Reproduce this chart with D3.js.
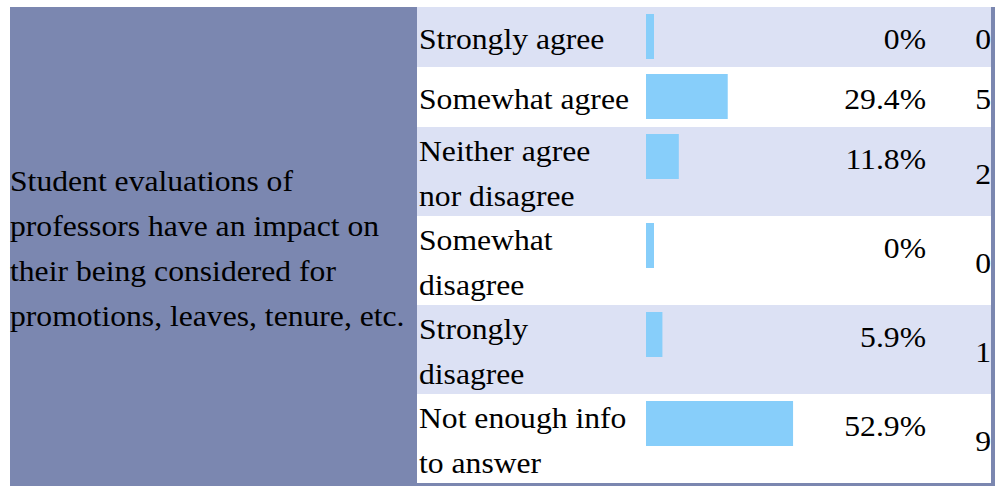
<!DOCTYPE html>
<html><head><meta charset="utf-8">
<script src="https://cdn.jsdelivr.net/npm/d3@7"></script>
<style>html,body{margin:0;padding:0;background:#fff;}svg{display:block;}</style>
</head><body>
<script>
const question = "Student evaluations of professors have an impact on their being considered for promotions, leaves, tenure, etc.";
const categories = ["Strongly agree", "Somewhat agree", "Neither agree nor disagree", "Somewhat disagree", "Strongly disagree", "Not enough info to answer"];
const percents = [0, 29.4, 11.8, 0, 5.9, 52.9];
const counts = [0, 5, 2, 0, 1, 9];

const W = 997, H = 486;
const SX = 1.055, FS = 30, LH = 44.5;
const FONT = '"Liberation Serif"';
const svg = d3.select("body").append("svg").attr("width", W).attr("height", H);

const frame = {x: 10, y: 7, w: 985, h: 479};
const rowsX0 = 417, rowsX1 = 991;
const rowBounds = [7, 67, 127, 216, 305, 394, 483];
const barX0 = 646;
const xScale = d3.scaleLinear().domain([0, 100]).range([0, 278]);

svg.append("rect").attr("x", frame.x).attr("y", frame.y).attr("width", frame.w).attr("height", frame.h).attr("fill", "#7b87b0");

function wrap(text, maxW) {
  const tmp = svg.append("text").style("font-family", FONT).style("font-size", FS + "px");
  const words = text.split(" ");
  const lines = [];
  let cur = "";
  words.forEach(w => {
    const t = cur ? cur + " " + w : w;
    tmp.text(t);
    if (tmp.node().getComputedTextLength() * SX > maxW && cur) { lines.push(cur); cur = w; }
    else cur = t;
  });
  if (cur) lines.push(cur);
  tmp.remove();
  return lines;
}

function addText(g, str, x, y, anchor) {
  g.append("text")
    .attr("transform", `translate(${x},${y}) scale(${SX},1)`)
    .attr("text-anchor", anchor || "start")
    .style("font-family", FONT)
    .style("font-size", FS + "px")
    .attr("fill", "#000")
    .text(str);
}

// Left question cell
const qLines = wrap(question, 405);
const qCenter = 246.5;
qLines.forEach((l, i) => addText(svg, l, 10, qCenter + (i - (qLines.length - 1) / 2) * 45 + 12));

const fmt = v => (Number.isInteger(v) ? d3.format("d")(v) : d3.format(".1f")(v)) + "%";

categories.forEach((c, i) => {
  const y0 = rowBounds[i], y1 = rowBounds[i + 1];
  const g = svg.append("g");
  g.append("rect").attr("x", rowsX0).attr("y", y0).attr("width", rowsX1 - rowsX0).attr("height", y1 - y0)
    .attr("fill", i % 2 === 0 ? "#dce1f4" : "#ffffff");
  const lines = wrap(c, 216);
  const cy = (y0 + y1) / 2;
  lines.forEach((l, j) => addText(g, l, 419, cy + (j - (lines.length - 1) / 2) * LH + 12));
  const bw = Math.max(8, xScale(percents[i]));
  g.append("rect").attr("x", barX0).attr("y", y0 + 7).attr("width", bw).attr("height", 45).attr("fill", "#87cefa");
  addText(g, fmt(percents[i]), 926, y0 + 7 + 22.5 + 12, "end");
  addText(g, String(counts[i]), 991, cy + 12, "end");
});
</script>
</body></html>
